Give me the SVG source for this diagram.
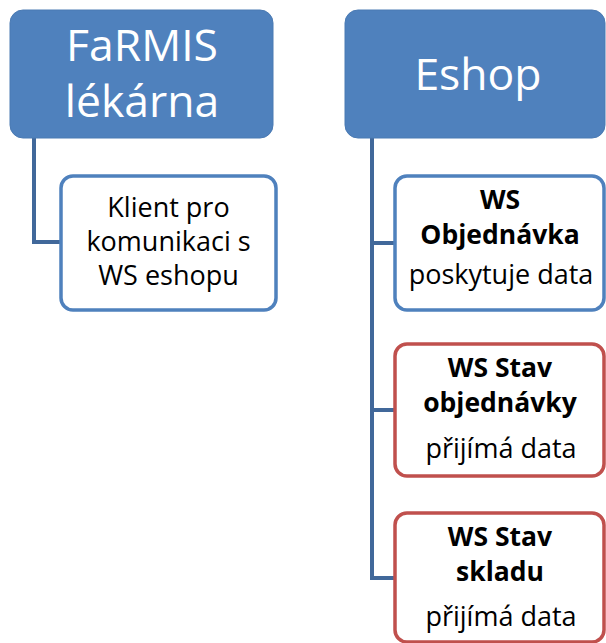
<svg xmlns="http://www.w3.org/2000/svg" width="606" height="643" viewBox="0 0 606 643">
<style>
.hdr{fill:#4F81BD;stroke:#4A7AB3;stroke-width:1}
.ht{font-family:"Open Sans","Noto Sans",sans-serif;font-size:44.5px;fill:#FFFFFF;text-anchor:middle}
.cb{fill:#FFFFFF;stroke:#4F81BD;stroke-width:3.5}
.rb{fill:#FFFFFF;stroke:#C0504D;stroke-width:3.5}
.t{font-family:"Open Sans","Noto Sans",sans-serif;font-size:27px;fill:#000000;text-anchor:middle}
.b{font-weight:bold;font-size:26.5px}
.con{fill:none;stroke:#41689A;stroke-width:4;stroke-linejoin:miter}
</style>
<rect width="606" height="643" fill="#FFFFFF"/>
<g id="connectors">
<path class="con" d="M34 138 V242 H61"/>
<path class="con" d="M372 138 V578 H395 M372 243 H395 M372 410 H395"/>
</g>
<g id="farmis">
<rect class="hdr" x="10" y="10" width="263" height="128" rx="13"/>
<text class="ht" x="142" y="61">FaRMIS</text>
<text class="ht" x="142" y="117">lékárna</text>
</g>
<g id="eshop">
<rect class="hdr" x="345" y="10" width="260" height="128" rx="13"/>
<text class="ht" x="478" y="90">Eshop</text>
</g>
<g id="klient">
<rect class="cb" x="61" y="176" width="215" height="134" rx="12"/>
<text class="t" x="168.5" y="217">Klient pro</text>
<text class="t" x="168.5" y="251">komunikaci s</text>
<text class="t" x="168.5" y="285">WS eshopu</text>
</g>
<g id="ws-objednavka">
<rect class="cb" x="395" y="176" width="209" height="134" rx="12"/>
<text class="t b" x="500" y="209">WS</text>
<text class="t b" x="500" y="244">Objednávka</text>
<text class="t" x="501" y="284">poskytuje data</text>
</g>
<g id="ws-stav-objednavky">
<rect class="rb" x="395" y="344" width="209" height="132" rx="12"/>
<text class="t b" x="500" y="377">WS Stav</text>
<text class="t b" x="500" y="412">objednávky</text>
<text class="t" x="501" y="458">přijímá data</text>
</g>
<g id="ws-stav-skladu">
<rect class="rb" x="395" y="513" width="209" height="129" rx="12"/>
<text class="t b" x="500" y="546">WS Stav</text>
<text class="t b" x="500" y="581">skladu</text>
<text class="t" x="501" y="626">přijímá data</text>
</g>
</svg>
